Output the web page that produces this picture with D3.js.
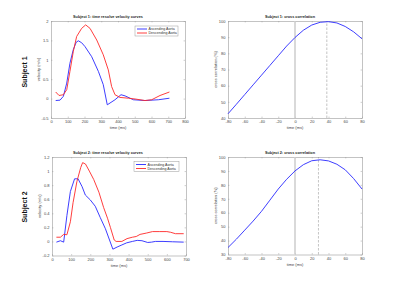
<!DOCTYPE html>
<html>
<head>
<meta charset="utf-8">
<script src="https://cdn.jsdelivr.net/npm/d3@7"></script>
<style>
  body { margin: 0; background: #fff; }
  text { font-family: "Liberation Sans", Arial, sans-serif; }
</style>
</head>
<body>
<div id="chart"></div>
<script>
//// data
// subject 1 velocity curves, time in ms / velocity in m/s
var s1_asc_t = [28, 54, 74, 94, 113, 133, 150, 163, 183, 203, 243, 283, 312, 336, 382, 418, 442, 492, 561, 641, 707];
var s1_asc_v = [-0.05, -0.04, 0.06, 0.4, 0.91, 1.26, 1.45, 1.49, 1.44, 1.34, 1.08, 0.7, 0.36, -0.16, -0.03, 0.1, 0.07, -0.03, -0.05, -0.03, 0.01];
var s1_desc_t = [28, 48, 74, 94, 113, 133, 153, 183, 207, 233, 273, 312, 342, 362, 382, 412, 462, 502, 561, 601, 651, 707];
var s1_desc_v = [0.17, 0.08, 0.1, 0.23, 0.7, 1.21, 1.6, 1.81, 1.9, 1.81, 1.51, 1.13, 0.74, 0.31, 0.1, 0.03, 0.01, -0.01, -0.05, -0.03, 0.08, 0.17];

// subject 2 velocity curves
var s2_asc_t = [23, 44, 61, 78, 96, 118, 136, 157, 174, 200, 226, 252, 279, 318, 340, 365, 390, 420, 445, 470, 500, 520, 540, 580, 630, 688];
var s2_asc_v = [-0.01, 0.01, -0.01, 0.37, 0.71, 0.89, 0.89, 0.78, 0.66, 0.59, 0.5, 0.34, 0.18, -0.11, -0.08, -0.05, -0.02, 0.0, 0.015, 0.01, -0.015, -0.01, 0.0, 0.0, -0.005, -0.01];
var s2_desc_t = [23, 44, 61, 78, 96, 110, 130, 150, 160, 175, 195, 218, 245, 270, 290, 305, 325, 335, 365, 392, 420, 440, 460, 495, 525, 560, 600, 620, 645, 688];
var s2_desc_v = [0.06, 0.06, 0.1, 0.095, 0.28, 0.55, 0.85, 1.05, 1.12, 1.1, 1.0, 0.88, 0.7, 0.48, 0.33, 0.2, 0.02, 0.0, 0.0, 0.04, 0.06, 0.07, 0.1, 0.12, 0.14, 0.14, 0.14, 0.13, 0.11, 0.11];

// cross correlation, lag in ms / correlation in %
var lag = [-80, -70, -60, -50, -40, -30, -20, -10, 0, 10, 20, 30, 40, 50, 60, 70, 80];
var s1_corr = [42.6, 48.5, 54.5, 60.5, 66.5, 72.5, 78.5, 84.5, 89.8, 94.3, 97.5, 99.2, 99.6, 98.8, 96.6, 93.3, 89];
var s2_corr = [35, 41, 47.5, 54, 61, 69, 77, 84, 90, 94.5, 97.3, 98, 97.2, 94.8, 90.8, 84.5, 77];
var s1_peak = 38, s2_peak = 28;

var legend_names = ["Ascending Aorta", "Descending Aorta"];
var titles = ["Subject 1: time resolve velocity curves", "Subject 1:  cross correlation",
              "Subject 2:  time resolve velocity curves", "Subject 2:  cross correlation"];
var row_names = ["Subject 1", "Subject 2"];

//// svg
var svg = d3.select("#chart").append("svg")
  .attr("width", 400).attr("height", 286);

var blue = "#2828ff", red = "#ff2828", axisCol = "#9a9a9a", txtCol = "#444";

function zip(t, v) { return t.map(function(d, i) { return [d, v[i]]; }); }

function panel(box, xdom, ydom, xticks, yticks, title, ylabel, titleX) {
  var x = d3.scaleLinear().domain(xdom).range([box.l, box.r]);
  var y = d3.scaleLinear().domain(ydom).range([box.b, box.t]);
  var g = svg.append("g");
  var fmt = function(d) { return String(+d.toFixed(2)); };

  // box with inward ticks on all sides
  var xb = g.append("g").attr("transform", "translate(0," + box.b + ")")
    .call(d3.axisBottom(x).tickValues(xticks).tickSizeInner(-1.4).tickSizeOuter(0).tickPadding(2.5).tickFormat(fmt));
  var xt = g.append("g").attr("transform", "translate(0," + box.t + ")")
    .call(d3.axisTop(x).tickValues(xticks).tickSizeInner(-1.4).tickSizeOuter(0).tickFormat(""));
  var yl = g.append("g").attr("transform", "translate(" + box.l + ",0)")
    .call(d3.axisLeft(y).tickValues(yticks).tickSizeInner(-1.4).tickSizeOuter(0).tickPadding(2.5).tickFormat(fmt));
  var yr = g.append("g").attr("transform", "translate(" + box.r + ",0)")
    .call(d3.axisRight(y).tickValues(yticks).tickSizeInner(-1.4).tickSizeOuter(0).tickFormat(""));
  [xb, xt, yl, yr].forEach(function(a) {
    a.select(".domain").attr("stroke", axisCol).attr("stroke-width", 0.6);
    a.selectAll(".tick line").attr("stroke", axisCol).attr("stroke-width", 0.5);
    a.selectAll(".tick text").attr("fill", txtCol).style("font-size", "4px")
      .style("font-family", "Liberation Sans, Arial, sans-serif");
  });

  g.append("text").attr("x", titleX).attr("y", box.t - 3)
    .attr("text-anchor", "middle").style("font-size", "3.8px").style("font-weight", "bold")
    .attr("fill", "#222").text(title);
  g.append("text").attr("x", (box.l + box.r) / 2).attr("y", box.b + 11)
    .attr("text-anchor", "middle").style("font-size", "4px").attr("fill", txtCol).text("time (ms)");
  g.append("text").attr("transform", "translate(" + (box.l - 11.5) + "," + ((box.t + box.b) / 2) + ") rotate(-90)")
    .attr("text-anchor", "middle").style("font-size", "4px").attr("fill", txtCol).text(ylabel);

  return {x: x, y: y, g: g};
}

function curve(p, data, color, w) {
  p.g.append("path").datum(data)
    .attr("fill", "none").attr("stroke", color).attr("stroke-width", w || 0.9)
    .attr("stroke-linejoin", "round")
    .attr("d", d3.line().x(function(d) { return p.x(d[0]); }).y(function(d) { return p.y(d[1]); }));
}

function legend(p, bx, by, bw, bh) {
  p.g.append("rect").attr("x", bx).attr("y", by).attr("width", bw).attr("height", bh)
    .attr("fill", "#fff").attr("stroke", axisCol).attr("stroke-width", 0.5);
  [blue, red].forEach(function(c, i) {
    var yy = by + 3 + i * 4;
    p.g.append("line").attr("x1", bx + 2).attr("x2", bx + 12).attr("y1", yy).attr("y2", yy)
      .attr("stroke", c).attr("stroke-width", 0.9);
    p.g.append("text").attr("x", bx + 13.5).attr("y", yy + 1.2).style("font-size", "3.6px")
      .attr("fill", "#333").text(legend_names[i]);
  });
}

function corrMarks(p, peak) {
  p.g.append("line").attr("x1", p.x(0)).attr("x2", p.x(0))
    .attr("y1", p.y.range()[0]).attr("y2", p.y.range()[1])
    .attr("stroke", "#d0d0d0").attr("stroke-width", 1.6);
  p.g.append("line").attr("x1", p.x(peak)).attr("x2", p.x(peak))
    .attr("y1", p.y.range()[0]).attr("y2", p.y.range()[1])
    .attr("stroke", "#888").attr("stroke-width", 0.5).attr("stroke-dasharray", "2.5,1.5");
}

//// row labels
row_names.forEach(function(n, i) {
  svg.append("text").attr("transform", "translate(27," + (i === 0 ? 72 : 207) + ") rotate(-90)")
    .attr("text-anchor", "middle").style("font-size", "7px").style("font-weight", "bold")
    .attr("fill", "#111").text(n);
});

//// panel 1
var p1 = panel({l: 51, r: 185, t: 21, b: 118}, [0, 800], [-0.5, 2],
  d3.range(0, 801, 100), d3.range(-0.5, 2.01, 0.5), titles[0], "velocity (m/s)", 108);
curve(p1, zip(s1_asc_t, s1_asc_v), blue);
curve(p1, zip(s1_desc_t, s1_desc_v), red);
legend(p1, 135, 26, 43, 10);

//// panel 2
var p2 = panel({l: 228, r: 362, t: 21, b: 118}, [-80, 80], [40, 100],
  d3.range(-80, 81, 20), d3.range(40, 101, 10), titles[1], "cross correlation (%)", 290);
corrMarks(p2, s1_peak);
curve(p2, zip(lag, s1_corr), blue);

//// panel 3
var p3 = panel({l: 52, r: 186, t: 157, b: 255.5}, [0, 700], [-0.2, 1.2],
  d3.range(0, 701, 100), d3.range(-0.2, 1.21, 0.2), titles[2], "velocity (m/s)", 108);
curve(p3, zip(s2_asc_t, s2_asc_v), blue);
curve(p3, zip(s2_desc_t, s2_desc_v), red);
legend(p3, 134, 161.5, 45, 10);

//// panel 4
var p4 = panel({l: 228, r: 362, t: 157, b: 254.5}, [-80, 80], [30, 100],
  d3.range(-80, 81, 20), d3.range(30, 101, 10), titles[3], "cross correlation (%)", 290);
corrMarks(p4, s2_peak);
curve(p4, zip(lag, s2_corr), blue);
</script>
</body>
</html>
